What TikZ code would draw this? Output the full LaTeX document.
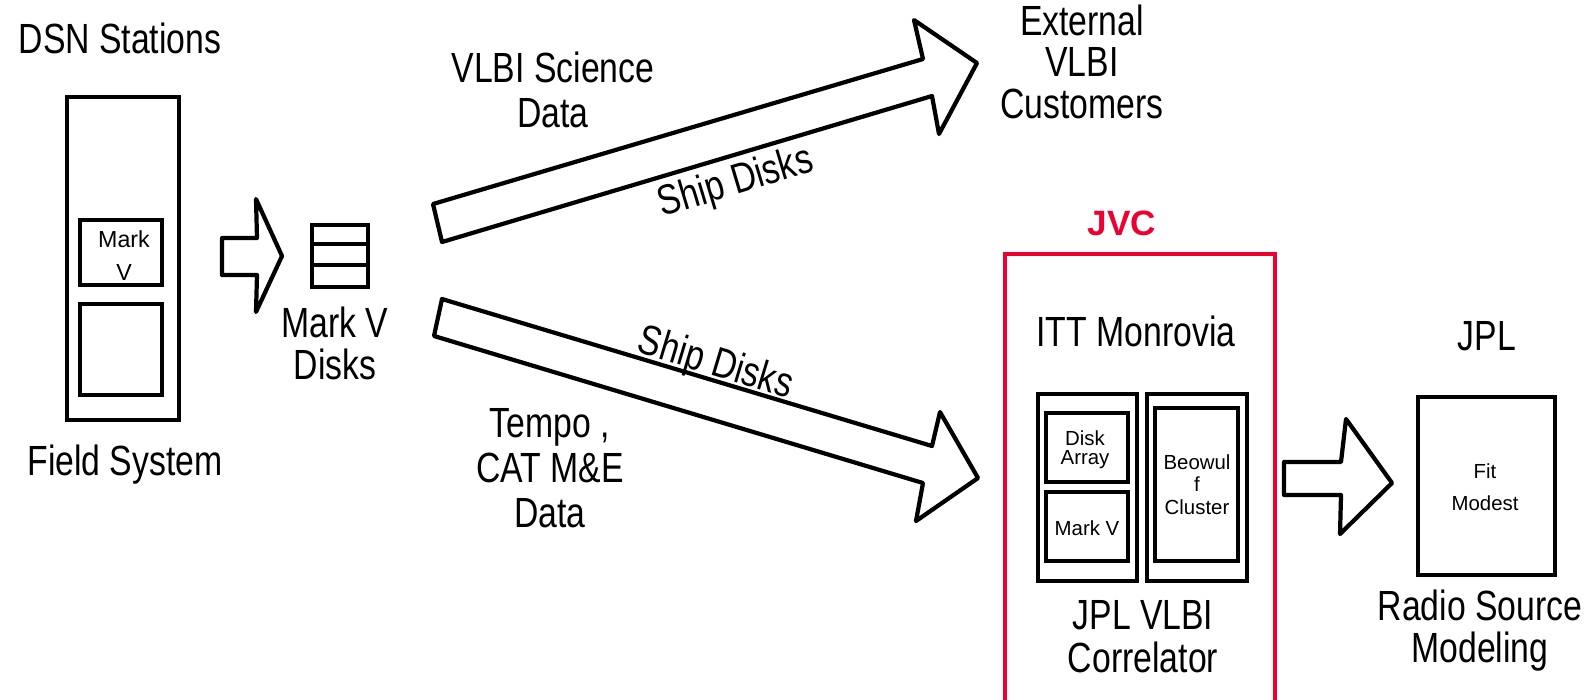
\documentclass[tikz,border=0pt]{standalone}
\usepackage{fontspec}
\setmainfont{Liberation Sans}
\newfontfamily\nar[FakeStretch=0.8]{Liberation Sans}
\definecolor{jvcred}{RGB}{238,0,48}
\newcommand{\lns}[1]{\begin{tabular}[t]{@{}c@{}}#1\end{tabular}}
\begin{document}
\begin{tikzpicture}[x=0.01cm,y=-0.01cm,
  lw/.style={line width=1.2pt},
  box/.style={draw,lw,inner sep=0pt,fill=white},
  blockarrow/.style={draw,lw,fill=white,line join=round},
  big/.style={inner sep=0pt,anchor=base,font=\nar\fontsize{12}{#1}\selectfont},
  big/.default=12.3pt,
  small/.style={inner sep=0pt,anchor=base,font=\fontsize{5.8}{#1}\selectfont},
  small/.default=6.5pt]
\clip (0,0) rectangle (1585,699);
\fill[white] (0,0) rectangle (1585,699);

% ---- DSN stations
\node[big] (dsn) at (120,53) {DSN Stations};
\node[box, minimum width=1.12cm, minimum height=3.23cm] (fs) at (123,258.5) {};
\node[box, minimum width=0.82cm, minimum height=0.65cm] (fsmk) at (121,252.5) {};
\node[inner sep=0pt,anchor=base,font=\fontsize{6.6}{9.4}\selectfont] (fsmkt) at (124,247) {\lns{Mark\\V}};
\node[box, minimum width=0.82cm, minimum height=0.91cm] (fslow) at (121,349.5) {};
\node[big] (fsl) at (125,475) {Field System};

% small block arrow
\draw[blockarrow] (222,238) -- (257,238) -- (256,199) -- (282,256) -- (256,312) -- (257,275) -- (222,275) -- cycle;

% disks
\node[box, minimum width=0.56cm, minimum height=0.19cm] (d1) at (340,234.5) {};
\node[box, minimum width=0.56cm, minimum height=0.21cm] (d2) at (340,254.5) {};
\node[box, minimum width=0.56cm, minimum height=0.22cm] (d3) at (340,276) {};
\node[big=11.7pt] (dsk) at (335,337) {\lns{Mark V\\Disks}};

% ---- big arrows
\draw[blockarrow] (433,204) -- (923,59) -- (914,20) -- (977,63) -- (939,134) -- (932,96) -- (442,242) -- cycle;
\draw[blockarrow] (442,299) -- (932,446) -- (940,412) -- (978,478) -- (916,521) -- (923,483) -- (434,336) -- cycle;

\node[big=12.8pt] (vsd) at (553,82) {\lns{VLBI Science\\Data}};
\node[big, rotate=16.7] (ship1) at (739,194) {Ship Disks};
\node[big=11.9pt] (ext) at (1082,35) {\lns{External\\VLBI\\Customers}};
\node[big, rotate=-16.8] (ship2) at (712,375) {Ship Disks};
\node[big=12.8pt] (tempo) at (550,437) {\lns{Tempo ,\\CAT M\&E\\Data}};

% ---- JVC
\node[inner sep=0pt,anchor=base,font=\fontsize{10}{12}\selectfont\bfseries,text=jvcred] (jvc) at (1122,235) {JVC};
\draw[jvcred, line width=1.2pt] (1005,720) -- (1005,254) -- (1275,254) -- (1275,720);
\node[big] (itt) at (1136,346) {ITT Monrovia};
\node[box, minimum width=0.99cm, minimum height=1.87cm] (jl) at (1087.5,487.5) {};
\node[box, minimum width=1.00cm, minimum height=1.87cm] (jr) at (1197,487.5) {};
\node[box, minimum width=0.82cm, minimum height=0.69cm] (da) at (1087,447.5) {};
\node[box, minimum width=0.82cm, minimum height=0.69cm] (mv) at (1087,526.5) {};
\node[box, minimum width=0.83cm, minimum height=1.53cm] (bw) at (1196.5,484.5) {};
\node[small=5.1pt] (dat) at (1085,445) {\lns{Disk\\Array}};
\node[small] (mvt) at (1087,535) {Mark V};
\node[small=6.5pt] (bwt) at (1197,469) {\lns{Beowul\\f\\Cluster}};
\node[big=11.9pt] (corr) at (1143,629) {\lns{JPL VLBI\\Correlator}};

% ---- JPL
\draw[blockarrow] (1284,462) -- (1341,462) -- (1346,419) -- (1392,483) -- (1340,534) -- (1341,495) -- (1284,495) -- cycle;
\node[big] (jpl) at (1487,350) {JPL};
\node[box, minimum width=1.37cm, minimum height=1.78cm] (fit) at (1486.5,486) {};
\node[small=9.1pt] (fitt) at (1485,478) {\lns{Fit\\Modest}};
\node[big=11.7pt] (rsm) at (1480,620) {\lns{Radio Source\\Modeling}};
\end{tikzpicture}
\end{document}
